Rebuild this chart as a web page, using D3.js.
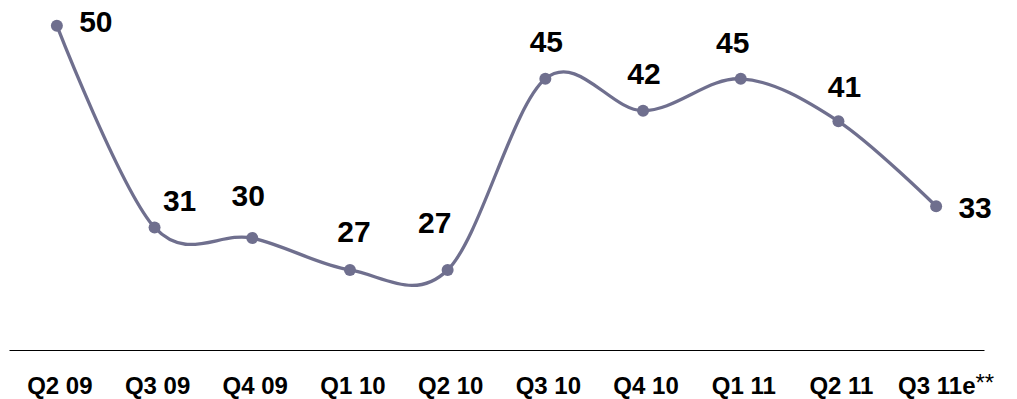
<!DOCTYPE html>
<html>
<head>
<meta charset="utf-8">
<script src="https://cdn.jsdelivr.net/npm/d3@7"></script>
<style>
  html, body { margin: 0; padding: 0; background: #fff; }
  svg { display: block; font-family: "Liberation Sans", Arial, sans-serif; }
</style>
</head>
<body>
<svg id="chart" width="1017" height="399"></svg>
<script>
// Quarterly values
const quarters = ["Q2 09", "Q3 09", "Q4 09", "Q1 10", "Q2 10", "Q3 10", "Q4 10", "Q1 11", "Q2 11", "Q3 11e"];
const values = [50, 31, 30, 27, 27, 45, 42, 45, 41, 33];

// Value label placement relative to each point: [dx to centre, dy to baseline]
const labelOffsets = [[39, 6], [25, -16], [-4, -32], [4, -28], [-13, -37], [1, -27], [1, -27], [-8, -26], [6, -24], [39, 12]];

const svg = d3.select("#chart");
const lineColor = "#6f6f8e";

const x = d3.scalePoint()
  .domain(quarters)
  .range([9, 984])
  .padding(0.49);

const y = d3.scaleLinear()
  .domain([20, 50])
  .range([344.3, 25.7]);

// Baseline axis with quarter labels
const axis = svg.append("g")
  .attr("transform", "translate(0,350)")
  .call(d3.axisBottom(x).tickSize(0).tickSizeOuter(0).tickPadding(27));

axis.select(".domain").attr("stroke", "#000").attr("stroke-width", 1);
axis.selectAll(".tick text")
  .attr("fill", "#000")
  .style("font-size", "24px")
  .style("font-weight", "bold")
  .style("font-family", "'Liberation Sans', Arial, sans-serif")
  .attr("dx", 2.5);

// Estimate marker on the final quarter
const lastTick = axis.selectAll(".tick text").filter((d, i, n) => i === n.length - 1);
lastTick.attr("dx", 9.5);
lastTick.append("tspan")
  .attr("dy", -3)
  .style("font-weight", "normal")
  .text("**");

// Smoothed line
const line = d3.line()
  .x((d, i) => x(quarters[i]))
  .y(d => y(d))
  .curve(d3.curveCardinal.tension(0));

svg.append("path")
  .datum(values)
  .attr("d", line)
  .attr("fill", "none")
  .attr("stroke", lineColor)
  .attr("stroke-width", 3.3)
  .attr("stroke-linejoin", "round");

// Point markers
svg.append("g")
  .selectAll("circle")
  .data(values)
  .join("circle")
  .attr("cx", (d, i) => x(quarters[i]))
  .attr("cy", d => y(d))
  .attr("r", 6)
  .attr("fill", lineColor);

// Value labels
svg.append("g")
  .selectAll("text")
  .data(values)
  .join("text")
  .attr("x", (d, i) => x(quarters[i]) + labelOffsets[i][0])
  .attr("y", (d, i) => y(d) + labelOffsets[i][1])
  .attr("text-anchor", "middle")
  .style("font-size", "30px")
  .style("font-weight", "bold")
  .attr("fill", "#000")
  .text(d => d);
</script>
</body>
</html>
